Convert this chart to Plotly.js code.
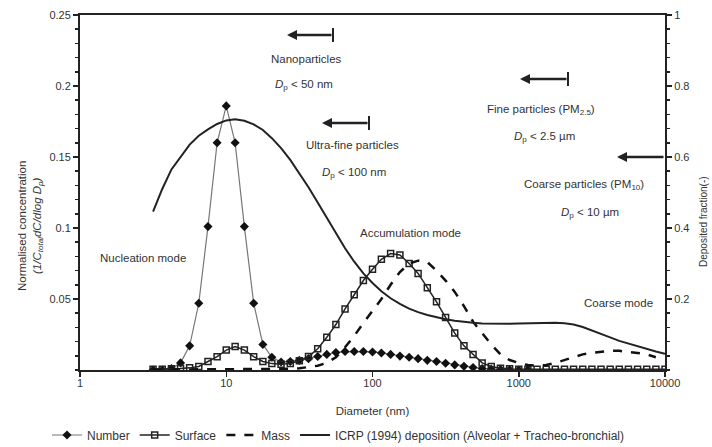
<!DOCTYPE html>
<html>
<head>
<meta charset="utf-8">
<script src="https://cdn.plot.ly/plotly-3.0.1.min.js"></script>
<style>html,body{margin:0;padding:0;background:#fff;}#chart{width:712px;height:447px;}</style>
</head>
<body>
<div id="chart"></div>
<script>
// Particle diameter grid (nm)
const diameterNm = [3.16, 3.65, 4.22, 4.87, 5.62, 6.49, 7.50, 8.66, 10.0, 11.5, 13.3, 15.4, 17.8, 20.5, 23.7, 27.4,
  31.6, 36.5, 42.2, 48.7, 56.2, 64.9, 75.0, 86.6, 100, 115, 133, 154, 178, 205, 237, 274,
  316, 365, 422, 487, 562, 649, 750, 866, 1000, 1155, 1334, 1540, 1778, 2054, 2371, 2738,
  3162, 3652, 4217, 4870, 5623, 6494, 7499, 8660, 10000];

// Normalised concentration (left axis)
const numberConc = [0, 0, 0.001, 0.005, 0.017, 0.047, 0.101, 0.160, 0.186, 0.160, 0.101, 0.047, 0.018, 0.009, 0.0056, 0.006,
  0.0068, 0.008, 0.0095, 0.011, 0.0123, 0.013, 0.013, 0.013, 0.0127, 0.012, 0.011, 0.0098, 0.009, 0.008, 0.0068, 0.006,
  0.0048, 0.0036, 0.0026, 0.0018, 0.001, 0.0006, 0.0003, 0.0001, 0, 0, null, null, null, null, null, null,
  null, null, null, null, null, null, null, null, null];

const surfaceConc = [0.0005, 0.0005, 0.0008, 0.001, 0.0015, 0.0025, 0.006, 0.0094, 0.014, 0.0165, 0.014, 0.0094, 0.006, 0.0045, 0.004, 0.0045,
  0.0065, 0.0095, 0.015, 0.023, 0.032, 0.043, 0.053, 0.063, 0.071, 0.078, 0.082, 0.081, 0.075, 0.068, 0.058, 0.048,
  0.037, 0.026, 0.017, 0.011, 0.005, 0.0025, 0.0012, 0.0008, 0.0005, 0.0005, 0.0005, 0.0005, 0.0005, 0.0005, 0.0005, 0.0005,
  0.0005, 0.0005, 0.0005, 0.0005, 0.0005, 0.0005, 0.0005, 0.0005, 0.0005];

const massConc = [0.0003, 0.0003, 0.0003, 0.0003, 0.0003, 0.0003, 0.0003, 0.0003, 0.0003, 0.0003, 0.0003, 0.0003, 0.0003, 0.0004, 0.0005, 0.0008,
  0.0012, 0.002, 0.003, 0.005, 0.009, 0.016, 0.024, 0.033, 0.042, 0.050, 0.060, 0.069, 0.075, 0.077, 0.076, 0.070,
  0.063, 0.055, 0.045, 0.034, 0.026, 0.018, 0.011, 0.007, 0.005, 0.0035, 0.003, 0.0035, 0.005, 0.007, 0.009, 0.011,
  0.012, 0.013, 0.0135, 0.0135, 0.013, 0.012, 0.011, 0.009, null];

// ICRP (1994) deposited fraction (right axis)
const icrpDeposition = [0.446, 0.51, 0.565, 0.60, 0.635, 0.66, 0.678, 0.693, 0.703, 0.706, 0.702, 0.692, 0.676, 0.653, 0.625, 0.592,
  0.555, 0.515, 0.472, 0.428, 0.385, 0.343, 0.305, 0.272, 0.245, 0.222, 0.202, 0.186, 0.173, 0.163, 0.155, 0.148,
  0.143, 0.139, 0.135, 0.133, 0.131, 0.130, 0.130, 0.130, 0.131, 0.132, 0.133, 0.133, 0.133, 0.132, 0.128, 0.121,
  0.112, 0.102, 0.092, 0.082, 0.074, 0.066, 0.058, 0.052, 0.046];

const xTickVals = [1, 10, 100, 1000, 10000];
const xTickText = ['1', '10', '100', '1000', '10000'];
const yTickVals = [0.05, 0.1, 0.15, 0.2, 0.25];
const yTickText = ['0.05', '0.1', '0.15', '0.2', '0.25'];
const y2TickVals = [0.2, 0.4, 0.6, 0.8, 1];
const y2TickText = ['0.2', '0.4', '0.6', '0.8', '1'];

// plot-area geometry (px) for placing annotations
const L = 80, R = 665, T = 15, B = 370;
const px = X => (X - L) / (R - L);
const py = Y => (B - Y) / (B - T);

const FONT = 'Liberation Sans, Arial, Helvetica, sans-serif';
const TXT = '#333';
const ASZ = 11.5;

const traces = [
  {x: diameterNm, y: numberConc, name: 'Number', type: 'scatter', mode: 'lines+markers',
   line: {color: '#777', width: 1.2}, marker: {symbol: 'diamond', size: 7, color: '#111'}, connectgaps: false},
  {x: diameterNm, y: surfaceConc, name: 'Surface', type: 'scatter', mode: 'lines+markers',
   line: {color: '#222', width: 1.5}, marker: {symbol: 'square-open', size: 6, color: '#222', line: {width: 1.5, color: '#222'}}},
  {x: diameterNm, y: massConc, name: 'Mass', type: 'scatter', mode: 'lines',
   line: {color: '#111', width: 2.5, dash: 'dash'}},
  {x: diameterNm, y: icrpDeposition, name: 'ICRP (1994) deposition (Alveolar + Tracheo-bronchial)', type: 'scatter', mode: 'lines',
   yaxis: 'y2', line: {color: '#222', width: 2}}
];

function txt(text, X, Y, extra) {
  return Object.assign({text: text, x: px(X), y: py(Y), xref: 'paper', yref: 'paper', showarrow: false,
    xanchor: 'center', yanchor: 'middle', font: {family: FONT, size: ASZ, color: TXT}}, extra || {});
}
function arrow(headX, barX, Y) {
  return {text: '', x: px(headX), y: py(Y), xref: 'paper', yref: 'paper', showarrow: true,
    ax: barX - headX, ay: 0, arrowhead: 2, arrowsize: 0.8, arrowwidth: 2.5, arrowcolor: '#222'};
}
function bar(X, Y) {
  return {type: 'line', xref: 'paper', yref: 'paper', x0: px(X), x1: px(X), y0: py(Y + 7), y1: py(Y - 7),
    line: {color: '#222', width: 2}};
}

const annotations = [
  arrow(287, 333, 35), arrow(322, 369, 123), arrow(520, 568, 79), arrow(617, 665, 157),
  txt('Nanoparticles', 306, 59),
  txt('<i>D</i><sub>p</sub> &lt; 50 nm', 304, 85),
  txt('Ultra-fine particles', 352, 145),
  txt('<i>D</i><sub>p</sub> &lt; 100 nm', 354, 173),
  txt('Fine particles (PM<sub>2.5</sub>)', 541, 110),
  txt('<i>D</i><sub>p</sub> &lt; 2.5 µm', 544, 137),
  txt('Coarse particles (PM<sub>10</sub>)', 584, 185),
  txt('<i>D</i><sub>p</sub> &lt; 10 µm', 590, 213),
  txt('Nucleation mode', 143, 258),
  txt('Accumulation mode', 410, 233),
  txt('Coarse mode', 618, 303),
  txt('Normalised concentration<br><i>(1/C<sub>total</sub>dC/dlog D<sub>p</sub>)</i>', 30, 226, {textangle: -90}),
  txt('Deposited fraction(-)', 703, 222, {textangle: -90, font: {family: FONT, size: 10, color: TXT}})
];

const layout = {
  width: 712, height: 447,
  margin: {l: L, r: 712 - R, t: T, b: 447 - B, pad: 0, autoexpand: false},
  paper_bgcolor: '#fff', plot_bgcolor: '#fff',
  font: {family: FONT, size: 11, color: TXT},
  xaxis: {type: 'log', range: [0, 4], tickmode: 'array', tickvals: xTickVals, ticktext: xTickText,
    ticks: 'outside', ticklen: 5, tickwidth: 1.5, tickcolor: '#222', ticklabelstandoff: -3,
    showline: true, linecolor: '#222', linewidth: 2, mirror: true, showgrid: false, zeroline: false,
    automargin: false, tickfont: {size: 11, color: TXT},
    title: {text: 'Diameter (nm)', font: {size: 11.5, color: TXT}, standoff: 19}},
  yaxis: {range: [0, 0.25], tickmode: 'array', tickvals: yTickVals, ticktext: yTickText,
    ticks: 'outside', ticklen: 5, tickwidth: 1.5, tickcolor: '#222', automargin: false,
    minor: {dtick: 0.01, tick0: 0, ticks: 'outside', ticklen: 3, tickwidth: 1.5, tickcolor: '#222', showgrid: false},
    showline: true, linecolor: '#222', linewidth: 2, showgrid: false, zeroline: false,
    tickfont: {size: 11, color: TXT}},
  yaxis2: {range: [0, 1], overlaying: 'y', side: 'right', tickmode: 'array', tickvals: y2TickVals, ticktext: y2TickText,
    ticks: 'outside', ticklen: 5, tickwidth: 1.5, tickcolor: '#222', automargin: false,
    minor: {dtick: 0.04, tick0: 0, ticks: 'outside', ticklen: 3, tickwidth: 1.5, tickcolor: '#222', showgrid: false},
    showline: true, linecolor: '#222', linewidth: 2, showgrid: false, zeroline: false,
    tickfont: {size: 11, color: TXT}},
  showlegend: true,
  legend: {orientation: 'h', x: px(47), xanchor: 'left', y: py(435), yanchor: 'middle',
    font: {size: 12, color: TXT}, bgcolor: 'rgba(0,0,0,0)', itemwidth: 30},
  annotations: annotations,
  shapes: [bar(333, 35), bar(369, 123), bar(568, 79)]
};

Plotly.newPlot('chart', traces, layout, {displayModeBar: false, staticPlot: true});
</script>
</body>
</html>
